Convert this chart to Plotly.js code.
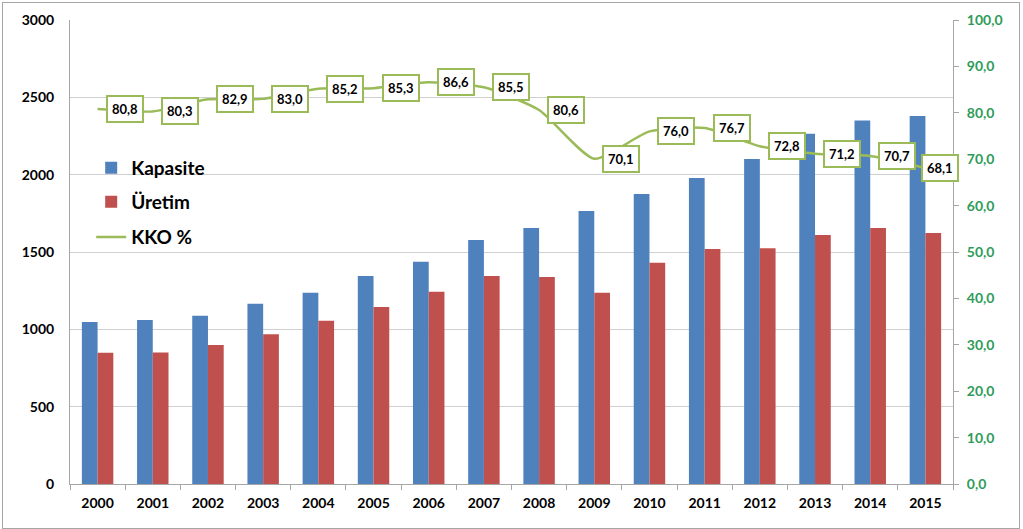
<!DOCTYPE html>
<html><head><meta charset="utf-8">
<script src="https://cdn.plot.ly/plotly-3.0.1.min.js"></script>
<style>
body{margin:0;padding:0;background:#fff;}
#wrap{position:relative;width:1023px;height:529px;}
#chart{width:1023px;height:529px;}
#frame{position:absolute;left:2px;top:2px;width:1016px;height:525px;border:1px solid #a6a6a6;pointer-events:none;}
</style>
</head><body>
<div id="wrap"><div id="chart"></div><div id="frame"></div></div>
<script>
const years = ['2000','2001','2002','2003','2004','2005','2006','2007','2008','2009','2010','2011','2012','2013','2014','2015'];
const kapasite = [1048,1060,1088,1166,1237,1345,1437,1578,1655,1765,1875,1979,2101,2265,2350,2380];
const uretim = [848,850,899,968,1056,1145,1243,1345,1338,1237,1430,1520,1524,1610,1655,1623];
const kko = [80.8,80.3,82.9,83.0,85.2,85.3,86.6,85.5,80.6,70.1,76.0,76.7,72.8,71.2,70.7,68.1];

const FONT = 'Lato, "Open Sans", sans-serif';
const green = '#9bbb59';

const traces = [
  {type:'bar', name:'Kapasite', x:years, y:kapasite, marker:{color:'#4f81bd'}, hoverinfo:'skip', legend:'legend'},
  {type:'bar', name:'Üretim', x:years, y:uretim, marker:{color:'#c0504d'}, hoverinfo:'skip', legend:'legend2'},
  {type:'scatter', mode:'lines', name:'KKO %', x:years, y:kko, yaxis:'y2', legend:'legend3',
   line:{color:green, width:2.5, shape:'spline', smoothing:0.6}, hoverinfo:'skip'}
];

const annotations = kko.map((v,i)=>({
  x: i, y: v, xref:'x', yref:'y2',
  text: v.toFixed(1).replace('.',','),
  showarrow:false, xanchor:'left', yanchor:'middle', xshift: (i === kko.length-1) ? -4 : 8,
  bgcolor:'#ffffff', bordercolor:green, borderwidth:2, borderpad:4,
  font:{family:FONT, size:13, color:'#000', weight:'bold'}
}));

const legFont = {family:FONT, size:19, color:'#000', weight:'bold'};
const legBase = {x:0.024, xanchor:'left', yanchor:'middle', bgcolor:'rgba(0,0,0,0)', font:legFont, itemwidth:30};

const layout = {
  width:1023, height:529,
  margin:{l:70, r:70, t:20, b:45},
  paper_bgcolor:'#fff', plot_bgcolor:'#fff',
  separators:', ',
  barmode:'group', bargap:0.43, bargroupgap:0,
  showlegend:true,
  legend: Object.assign({y:0.681}, legBase),
  legend2: Object.assign({y:0.608}, legBase),
  legend3: Object.assign({y:0.532}, legBase),
  xaxis:{type:'category', range:[-0.5,15.5], showline:true, linecolor:'#a6a6a6', linewidth:1,
         ticks:'outside', tickson:'boundaries', ticklen:5, tickcolor:'#a6a6a6', ticklabelstandoff:6,
         tickfont:{family:FONT, size:14, color:'#000', weight:'bold'}, showgrid:false},
  yaxis:{range:[0,3000], dtick:500, showline:true, linecolor:'#a6a6a6', linewidth:1,
         showgrid:true, gridcolor:'#d0d0d0', zeroline:false, ticks:'', ticklabelstandoff:12,
         tickfont:{family:FONT, size:14, color:'#000', weight:'bold'}},
  yaxis2:{range:[0,100], dtick:10, overlaying:'y', side:'right', showgrid:false,
          showline:true, linecolor:'#a6a6a6', linewidth:1, zeroline:false,
          ticks:'outside', ticklen:5, tickcolor:'#a6a6a6', tickformat:'.1f', ticklabelstandoff:5,
          tickfont:{family:FONT, size:14, color:'#2f9b5a', weight:'bold'}},
  annotations: annotations
};

Plotly.newPlot('chart', traces, layout, {displayModeBar:false, staticPlot:true});
</script>
</body></html>
